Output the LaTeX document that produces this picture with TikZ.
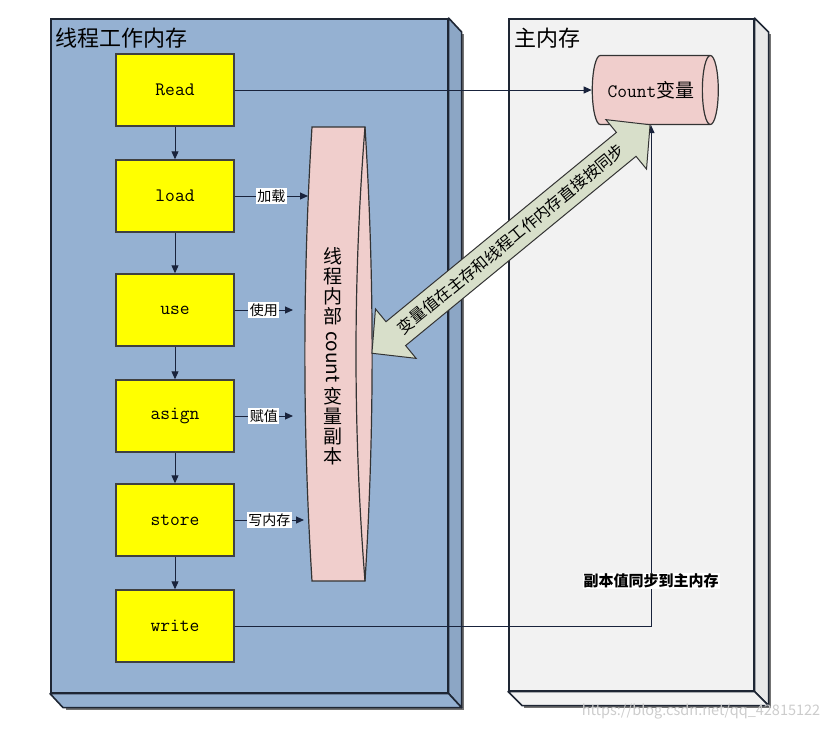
\documentclass[tikz,border=0pt]{standalone}
\usepackage{fontspec}
\setmainfont{Noto Sans CJK SC}
\usetikzlibrary{shapes.geometric, shapes.arrows, arrows.meta, positioning, calc}
\definecolor{panelblue}{RGB}{149,177,210}
\definecolor{panelgray}{RGB}{242,242,242}
\definecolor{edgedark}{RGB}{30,38,52}
\definecolor{boxyellow}{RGB}{255,255,0}
\definecolor{cylpink}{RGB}{240,206,204}
\definecolor{syncgreen}{RGB}{216,223,202}
\definecolor{arrnavy}{RGB}{25,35,60}
\tikzset{
	panel/.style={rectangle, draw=edgedark, line width=1.6pt, anchor=north west, inner sep=0pt},
	face/.style={draw=edgedark, line width=1.6pt, line join=round},
	opbox/.style={rectangle, draw=black!75, line width=1.4pt, fill=boxyellow, minimum width=118pt, minimum height=72pt, font=\ttfamily\fontsize{19}{22}\selectfont},
	title/.style={anchor=west, inner sep=0pt, font=\fontsize{22}{26}\selectfont},
	lbl/.style={fill=white, inner sep=1.5pt, font=\fontsize{14}{16}\selectfont},
	syncl/.style={fill=white, inner sep=1pt, font=\bfseries\fontsize{15}{17}\selectfont},
	cyl/.style={cylinder, draw=black!80, line width=1.2pt, cylinder uses custom fill, cylinder body fill=cylpink, cylinder end fill=cylpink, inner sep=0pt},
	cylface/.style={draw=black!80, line width=1.2pt, fill=cylpink, line join=miter},
	vtext/.style={align=center, inner sep=0pt, font=\fontsize{19}{20}\selectfont},
	arr/.style={-{Triangle[length=8pt, width=7pt]}, draw=arrnavy, line width=1pt}
}

\begin{document}
\begin{tikzpicture}[x=1pt, y=-1pt]
	\useasboundingbox (0,0) rectangle (832,731);

	% thread working memory
	\draw[black!55, line width=2.5pt] (66,708.5) -- (462.5,708.5) -- (462.5,34);
	\node[panel, fill=panelblue, minimum width=397pt, minimum height=674pt] (thread) at (50,18) {};
	\draw[face, fill=panelblue!94!black] (thread.north east) -- ++(13,14) -- ($(thread.south east)+(13,14)$) -- (thread.south east) -- cycle;
	\draw[face, fill=panelblue] (thread.south west) -- ++(13,14) -- ($(thread.south east)+(13,14)$) -- (thread.south east) -- cycle;
	\node[title] (threadtitle) at (55,38) {线程工作内存};

	% main memory
	\draw[black!55, line width=2.5pt] (524,706.5) -- (769.5,706.5) -- (769.5,34);
	\node[panel, fill=panelgray, minimum width=245pt, minimum height=672pt] (main) at (508,18) {};
	\draw[face, fill=panelgray!96!black] (main.north east) -- ++(14,14) -- ($(main.south east)+(14,14)$) -- (main.south east) -- cycle;
	\draw[face, fill=panelgray] (main.south west) -- ++(14,14) -- ($(main.south east)+(14,14)$) -- (main.south east) -- cycle;
	\node[title] (maintitle) at (514,38) {主内存};

	% operations
	\node[opbox] (read) at (175,90) {Read};
	\node[opbox] (load) at (175,196) {load};
	\node[opbox] (use) at (175,310) {use};
	\node[opbox] (asign) at (175,416) {asign};
	\node[opbox] (store) at (175,520) {store};
	\node[opbox] (write) at (175,626) {write};
	\foreach \a/\b in {read/load, load/use, use/asign, asign/store, store/write}
		\draw[arr] (\a) -- (\b);

	% copy in the thread (flat disc seen edge on)
	\filldraw[cylface] (312,127) -- (365,127) .. controls (374.5,278) and (374.5,430) .. (365,581)
		-- (312,581) .. controls (302.5,430) and (302.5,278) .. (312,127) -- cycle;
	\draw[cylface, fill=none] (365,581) .. controls (353,430) and (353,278) .. (365,127);
	\node[vtext] (copytop) at (333,286) {线\\程\\内\\部};
	\node[vtext, rotate=-90] (copyword) at (333,357) {count};
	\node[vtext] (copybottom) at (333,426) {变\\量\\副\\本};

	% the variable in main memory
	\node[cyl, shape aspect=0.9, minimum height=126pt, minimum width=69pt, font=\fontsize{19}{22}\selectfont] (count) at (651,90) {{\ttfamily Count}变量};

	\coordinate (loadtip) at (308,196);
	\coordinate (usetip) at (293,310);
	\coordinate (asigntip) at (293,416);
	\coordinate (storetip) at (304,520);
	\draw[arr] (load.east) -- node[lbl] {加载} (loadtip);
	\draw[arr] (use.east) -- node[lbl] {使用} (usetip);
	\draw[arr] (asign.east) -- node[lbl] {赋值} (asigntip);
	\draw[arr] (store.east) -- node[lbl] {写内存} (storetip);

	\draw[arr] (read.east) -- (count.west);
	\draw[arr] (write.east) -| node[syncl, pos=0.545] {副本值同步到主内存} (count.south);

	% two-way sync
	\node[double arrow, draw=black!80, line width=1pt, fill=syncgreen, rotate=39.4,
		minimum height=360pt, minimum width=64pt, double arrow head extend=16pt, double arrow tip angle=92,
		inner xsep=2pt, inner ysep=7pt, font=\fontsize{16}{18}\selectfont] (sync) at (511,239) {变量值在主存和线程工作内存直接按同步};

	\node[text=black!20, font=\fontsize{14.5}{16}\selectfont] (mark) at (701,712) {https://blog.csdn.net/qq\_42815122};
\end{tikzpicture}
\end{document}
